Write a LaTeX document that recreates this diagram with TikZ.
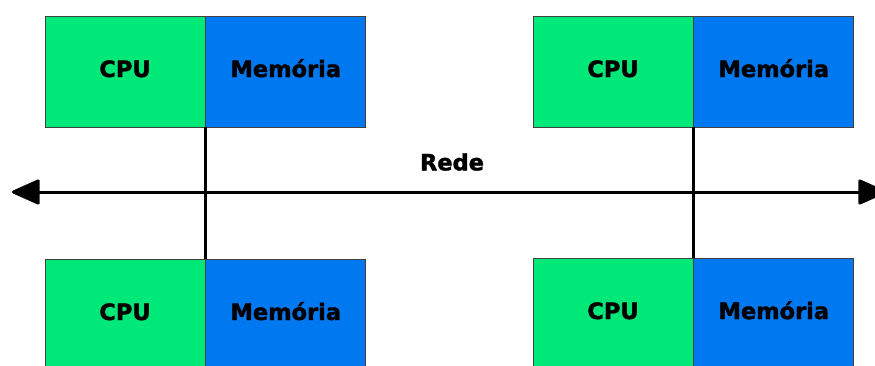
\documentclass[tikz,border=0pt]{standalone}
\usepackage{fontspec}
\setmainfont{DejaVu Sans}[BoldFeatures={FakeBold=1.6}]
\usetikzlibrary{positioning,arrows.meta}

\definecolor{cpugreen}{RGB}{0,232,120}
\definecolor{memblue}{RGB}{0,120,240}

\tikzset{
    cpubox/.style={rectangle, draw=black!75, line width=0.8pt, fill=cpugreen,
        minimum width=160pt, minimum height=111pt, inner sep=0pt,
        text height=16pt, text depth=5pt,
        font=\bfseries\fontsize{22.5}{26}\selectfont},
    membox/.style={cpubox, fill=memblue},
    bus/.style={line width=3pt, >={Triangle[length=30pt, width=26pt, round]}}
}

\begin{document}
\begin{tikzpicture}[x=1pt, y=-1pt]
        \clip (0,0) rectangle (875,365);
        % nodes above the bus
        \node [cpubox] (cpuA) at (125,71.5) {CPU};
        \node [membox, right=0pt of cpuA] (memA) {Memória};
        \node [cpubox] (cpuB) at (613,71.5) {CPU};
        \node [membox, right=0pt of cpuB] (memB) {Memória};
        % nodes below the bus
        \node [cpubox] (cpuC) at (125,314.5) {CPU};
        \node [membox, right=0pt of cpuC] (memC) {Memória};
        \node [cpubox] (cpuD) at (613,313.5) {CPU};
        \node [membox, right=0pt of cpuD] (memD) {Memória};

        % the bus
        \coordinate (west) at (12,192);
        \coordinate (east) at (886,192);
        \draw [bus, <->] (west) -- (east);
        \node [font=\bfseries\fontsize{22.5}{26}\selectfont] (rede) at (452,162) {Rede};

        % taps onto the bus
        \draw [bus] (cpuA.south east) -- (cpuC.north east);
        \draw [bus] (cpuB.south east) -- (cpuD.north east);
    \end{tikzpicture}
\end{document}
